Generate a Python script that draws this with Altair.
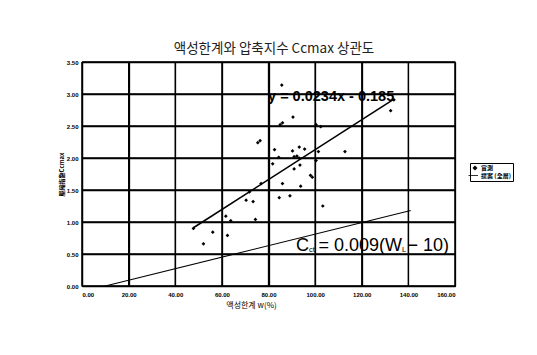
import altair as alt
import pandas as pd

# measured points (liquid limit wL %, compression index Ccmax)
wl = [47.8, 52.1, 56.1, 61.7, 62.4, 63.8, 70.4, 71.8, 73.4, 74.4,
      75.4, 76.4, 76.8, 86.0, 84.6, 89.2, 81.8, 82.6, 84.4, 85.7,
      86.0, 85.0, 90.5, 90.3, 93.2, 95.5, 91.0, 92.2, 93.1, 93.5,
      91.0, 93.8, 98.0, 98.8, 100.4, 101.4, 100.4, 102.4, 103.3, 112.8,
      132.4, 133.8]
cc = [0.90, 0.66, 0.84, 1.09, 0.79, 1.02, 1.34, 1.47, 1.32, 1.04,
      2.24, 2.27, 1.60, 1.60, 1.38, 1.41, 1.91, 2.13, 2.01, 3.14,
      2.55, 2.52, 2.64, 2.11, 2.17, 2.14, 2.02, 2.03, 2.00, 1.89,
      1.83, 1.56, 1.73, 1.70, 1.96, 2.10, 2.52, 2.49, 1.25, 2.10,
      2.74, 2.91]

# regression line y = 0.0234x - 0.185 (end points)
fit_x = [47.8, 133.8]
fit_y = [0.91, 2.92]

# proposed line Cct = 0.009(WL - 10)
prop_x = [10.0, 141.0]
prop_y = [0.0, 1.18]

series_names = ["實測", "提案 (全層)"]

x_ticks = [0, 20, 40, 60, 80, 100, 120, 140, 160]
y_ticks = [0, 0.5, 1.0, 1.5, 2.0, 2.5, 3.0, 3.5]

chart_title = "액성한계와 압축지수 Ccmax 상관도"

# annotation texts
eq1_text = "y = 0.0234x - 0.185"
eq1_pos = (79.8, 2.95)
eq2_parts = ["C", "ct", "= 0.009(W", "L", "− 10)"]
eq2_x = [91.8, 97.4, 101.4, 137.3, 139.6]
eq2_y = [0.625, 0.57, 0.625, 0.57, 0.625]
eq2_size = [18, 7.5, 18, 7.5, 18]

pts = pd.DataFrame({"wl": wl, "cc": cc, "kind": series_names[0]})
fit = pd.DataFrame({"wl": fit_x, "cc": fit_y})
prop = pd.DataFrame({"wl": prop_x, "cc": prop_y})
eq1 = pd.DataFrame({"wl": [eq1_pos[0]], "cc": [eq1_pos[1]], "t": [eq1_text]})
eq2 = pd.DataFrame({"wl": eq2_x, "cc": eq2_y, "t": eq2_parts, "s": eq2_size})
gx = pd.DataFrame({"gxv": [float(v) for v in x_ticks]})
gy = pd.DataFrame({"gyv": [float(v) for v in y_ticks]})

xs = alt.Scale(domain=[0, 160], nice=False)
ys = alt.Scale(domain=[0, 3.5], nice=False)

x_axis = alt.Axis(values=x_ticks, format=".2f", title="액성한계 w(%)",
                  titleFont="Noto Sans CJK KR", titleFontSize=8, titleFontWeight="normal",
                  titleX=169, titleY=15,
                  labelFont="Liberation Sans", labelFontSize=6, labelFontWeight="bold",
                  labelPadding=5, ticks=False, grid=True, gridColor="#000",
                  gridWidth=1.3, gridOpacity=1,
                  domainColor="#000", domainWidth=1.2, labelColor="#000",
                  titleColor="#000", labelOverlap=False)
y_axis = alt.Axis(values=y_ticks, format=".2f", title="壓縮指數Ccmax",
                  titleFont="Noto Sans CJK TC", titleFontSize=6, titleFontWeight="bold",
                  titlePadding=2,
                  labelFont="Liberation Sans", labelFontSize=6, labelFontWeight="bold",
                  labelPadding=4, ticks=False, grid=True, gridColor="#000",
                  gridWidth=1.3, gridOpacity=1,
                  domainColor="#000", domainWidth=1.2, labelColor="#000",
                  titleColor="#000", labelOverlap=False)

X = alt.X("wl:Q", scale=xs, axis=x_axis)
Y = alt.Y("cc:Q", scale=ys, axis=y_axis)

grid_x = alt.Chart(gx).mark_rule(color="#000", strokeWidth=1.3).encode(
    x=alt.X("gxv:Q", scale=xs, axis=x_axis))
grid_y = alt.Chart(gy).mark_rule(color="#000", strokeWidth=1.3).encode(
    y=alt.Y("gyv:Q", scale=ys, axis=y_axis))

prop_line = alt.Chart(prop).mark_line(color="black", strokeWidth=1.1).encode(x=X, y=Y)
fit_line = alt.Chart(fit).mark_line(color="black", strokeWidth=1.6).encode(x=X, y=Y)

points = alt.Chart(pts).mark_point(filled=True, color="black", size=14, opacity=1).encode(
    x=X, y=Y,
    shape=alt.Shape("kind:N",
                    scale=alt.Scale(domain=series_names,
                                    range=["diamond", "M-2.6,-0.16H1.2V0.16H-2.6Z"]),
                    legend=alt.Legend(title=None, orient="none", legendX=388, legendY=101,
                                      direction="vertical",
                                      labelFont="Noto Sans CJK TC", labelFontSize=6,
                                      labelFontWeight="bold", labelColor="#000",
                                      symbolFillColor="black", symbolStrokeColor="black",
                                      symbolStrokeWidth=0, symbolSize=25,
                                      strokeColor="black", padding=2, rowPadding=1.5,
                                      labelOffset=3, labelLimit=80)),
)

eq1_txt = alt.Chart(eq1).mark_text(font="Liberation Sans", fontSize=14.5, fontWeight="bold",
                                   align="left", baseline="middle", color="black").encode(
    x=X, y=Y, text="t:N")
eq2_txt = alt.Chart(eq2).mark_text(font="Liberation Sans", align="left", baseline="middle",
                                   color="black").encode(
    x=X, y=Y, text="t:N",
    size=alt.Size("s:Q", scale=None, legend=None))

title_txt = alt.Chart(pd.DataFrame({"t": [chart_title]})).mark_text(
    font="Noto Sans CJK KR", fontSize=13.5, color="#222", align="center",
    baseline="middle").encode(x=alt.value(192), y=alt.value(-13), text="t:N")

chart = alt.layer(grid_x, grid_y, prop_line, fit_line, points, eq1_txt, eq2_txt,
                  title_txt).properties(
    width=373, height=224,
    autosize=alt.AutoSizeParams(type="none"),
    padding={"left": 74, "top": 54, "right": 74, "bottom": 55},
).configure(background="white").configure_view(stroke="black", strokeWidth=1.2)

chart.save("out.html", embed_options={"renderer": "svg", "actions": False})
